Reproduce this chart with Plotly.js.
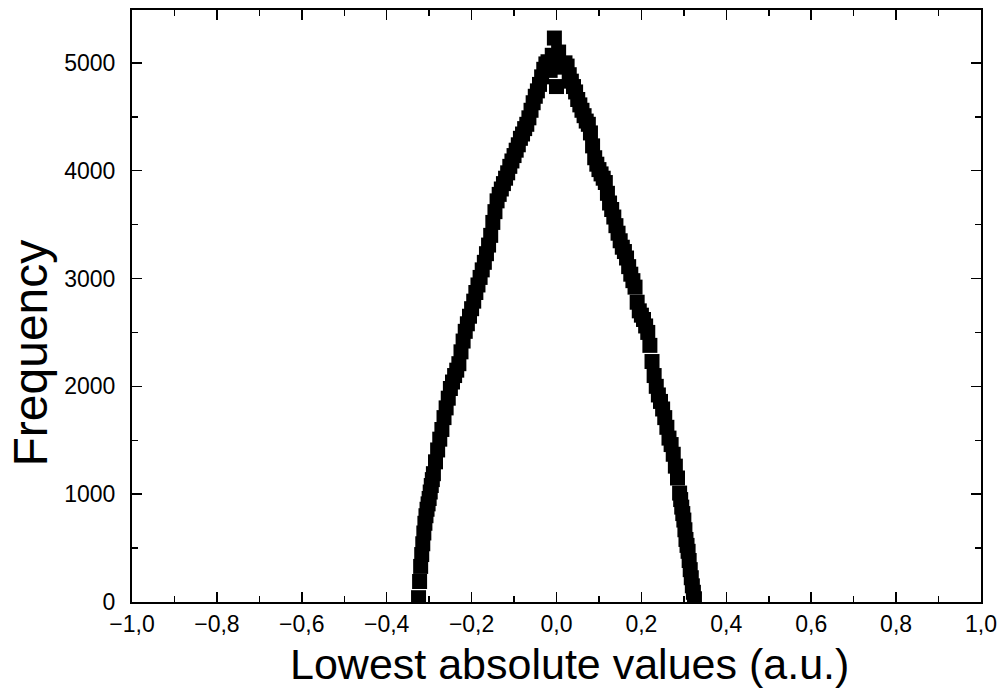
<!DOCTYPE html>
<html>
<head>
<meta charset="utf-8">
<script src="https://cdn.plot.ly/plotly-3.0.1.min.js"></script>
<style>html,body{margin:0;padding:0;background:#fff;}</style>
</head>
<body>
<div id="chart" style="width:1004px;height:691px;"></div>
<script>
const binCenters = [
 -0.325,-0.3225,-0.320,-0.3175,-0.315,-0.3125,-0.310,-0.3075,-0.305,-0.3025,
 -0.300,-0.2975,-0.295,-0.2925,-0.290,-0.285,-0.280,
 -0.275,-0.270,-0.265,-0.260,-0.255,-0.250,-0.245,-0.240,-0.235,-0.230,
 -0.225,-0.220,-0.215,-0.210,-0.205,-0.200,-0.195,-0.190,-0.185,-0.180,
 -0.175,-0.170,-0.165,-0.160,-0.155,-0.150,-0.145,-0.140,-0.135,-0.130,
 -0.125,-0.120,-0.115,-0.110,-0.105,-0.100,-0.095,-0.090,-0.085,-0.080,
 -0.075,-0.070,-0.065,-0.060,-0.055,-0.050,-0.045,-0.040,-0.035,-0.030,
 -0.025,-0.020,-0.015,-0.010,-0.005,0.000,0.005,0.010,0.015,0.020,
 0.025,0.030,0.035,0.040,0.045,0.050,0.055,0.060,0.065,0.070,
 0.075,0.080,0.085,0.090,0.095,0.100,0.105,0.110,0.115,0.120,
 0.125,0.130,0.135,0.140,0.145,0.150,0.155,0.160,0.165,0.170,
 0.175,0.180,0.185,0.190,0.195,0.200,0.205,0.210,0.215,0.220,
 0.225,0.230,0.235,0.240,0.245,0.250,0.255,0.260,0.265,0.270,
 0.275,0.280,0.285,0.290,0.2925,0.295,0.2975,0.300,0.3025,0.305,
 0.3075,0.310,0.3125,0.315,0.3175,0.320,0.3225,0.325
];
const frequency = [
 40,190,330,440,540,640,730,800,860,910,
 960,1020,1080,1135,1190,1300,1410,
 1510,1600,1710,1800,1890,1980,2040,2100,2150,2210,
 2320,2420,2510,2580,2650,2720,2790,2870,2940,3010,
 3080,3150,3230,3310,3400,3520,3620,3720,3780,3830,
 3880,3930,3980,4040,4090,4140,4190,4240,4300,4340,
 4390,4430,4490,4560,4630,4690,4740,4800,4870,4940,
 4990,5010,4930,5070,5230,4780,5100,4960,4990,5000,
 4970,4890,4830,4780,4730,4660,4610,4560,4510,4460,
 4430,4350,4230,4120,4060,4010,3970,3930,3890,3790,
 3700,3640,3570,3490,3420,3350,3290,3250,3190,3110,
 3040,2980,2920,2780,2700,2660,2620,2560,2500,2380,
 2230,2100,2000,1920,1860,1790,1710,1620,1520,1460,
 1370,1260,1150,1010,950,880,820,760,670,580,
 525,470,385,300,225,150,90,30
];
const xTickVals = [-1.0,-0.8,-0.6,-0.4,-0.2,0.0,0.2,0.4,0.6,0.8,1.0];
const yTickVals = [0,1000,2000,3000,4000,5000];
const xTitle = 'Lowest absolute values (a.u.)';
const yTitle = 'Frequency';

const FONT = 'Liberation Sans, Arial, sans-serif';
const trace = {
  x: binCenters, y: frequency, type: 'scatter', mode: 'markers',
  marker: {symbol: 'square', size: 15, color: '#000', line: {width: 0}},
  showlegend: false, hoverinfo: 'skip'
};
const axisCommon = {
  showline: true, linecolor: '#000', linewidth: 2, mirror: 'ticks',
  ticks: 'inside', ticklen: 10, tickwidth: 1.5, tickcolor: '#000',
  showgrid: false, zeroline: false, automargin: false,
  tickfont: {family: FONT, size: 23, color: '#000'}
};
const layout = {
  width: 1004, height: 691,
  margin: {l: 132, r: 23, t: 10, b: 89},
  paper_bgcolor: '#fff', plot_bgcolor: '#fff',
  separators: ',.',
  xaxis: Object.assign({}, axisCommon, {
    range: [-1, 1], tickvals: xTickVals, tickformat: '.1f',
    ticklabelstandoff: 0,
    minor: {ticks: 'inside', ticklen: 6, tickwidth: 1.5, tickcolor: '#000', dtick: 0.1, tick0: 0}
  }),
  yaxis: Object.assign({}, axisCommon, {
    range: [0, 5490], tickvals: yTickVals,
    ticklabelstandoff: 10,
    minor: {ticks: 'inside', ticklen: 6, tickwidth: 1.5, tickcolor: '#000', dtick: 500, tick0: 0}
  }),
  annotations: [{
    text: xTitle, showarrow: false,
    xref: 'paper', yref: 'paper', x: 0.515, y: -0.105,
    xanchor: 'center', yanchor: 'middle',
    font: {family: FONT, size: 43, color: '#000'}
  }, {
    text: yTitle, textangle: -90, showarrow: false,
    xref: 'paper', yref: 'paper', x: -0.12, y: 0.42,
    xanchor: 'center', yanchor: 'middle',
    font: {family: FONT, size: 48, color: '#000'}
  }]
};
Plotly.newPlot('chart', [trace], layout, {staticPlot: true, displayModeBar: false});
</script>
</body>
</html>
